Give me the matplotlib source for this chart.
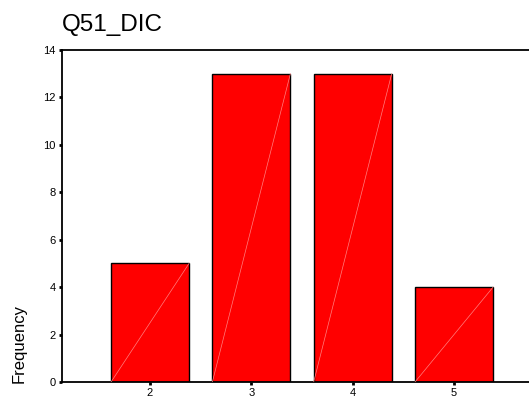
import matplotlib
matplotlib.use("Agg")
import matplotlib.pyplot as plt

# data
categories = [2, 3, 4, 5]
frequency = [5, 13, 13, 4]
y_ticks = [0, 2, 4, 6, 8, 10, 12, 14]

plt.rcParams["font.family"] = ["Liberation Sans", "DejaVu Sans"]

fig = plt.figure(figsize=(5.29, 4.01), dpi=100)
ax = fig.add_axes([62 / 529, 1 - 382 / 401, 1 - 62 / 529, (382 - 50) / 401])

width = 0.77
ax.bar(categories, frequency, width=width, color="#ff0000",
       edgecolor="black", linewidth=1.0, zorder=2)
# faint diagonal streak drawn inside each bar
for x, v in zip(categories, frequency):
    ax.plot([x - width / 2, x + width / 2], [0, v], color="#ff8080",
            linewidth=0.5, zorder=3)

ax.set_xlim(1.131, 5.74)
ax.set_ylim(0, 14)
ax.set_xticks(categories)
ax.set_yticks(y_ticks)
ax.tick_params(direction="out", length=2.5, width=2, labelsize=8, pad=2)

ax.spines["right"].set_visible(False)
for s in ["left", "top", "bottom"]:
    ax.spines[s].set_linewidth(1.3)

fig.text(62 / 529, 1 - 31 / 401, "Q51_DIC", fontsize=17.5, ha="left", va="baseline")
fig.text(19 / 529, 1 - 383 / 401, "Frequency", fontsize=12, rotation=90,
         ha="center", va="bottom")

fig.savefig("out.png", dpi=100)
